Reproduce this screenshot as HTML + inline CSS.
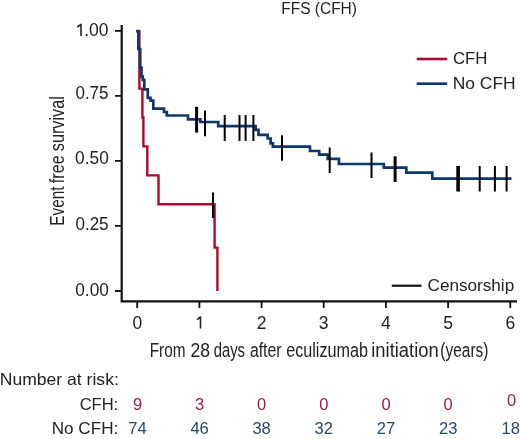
<!DOCTYPE html>
<html><head><meta charset="utf-8"><title>FFS (CFH)</title>
<style>
html,body{margin:0;padding:0;background:#fff;width:520px;height:439px;overflow:hidden}
svg{display:block;will-change:transform}
text{font-family:"Liberation Sans",sans-serif;fill:#222}
</style></head><body>
<svg width="520" height="439" viewBox="0 0 520 439">
<rect width="520" height="439" fill="#fff"/>
<!-- title -->
<text x="281.23" y="13.9" font-size="16" textLength="75.73" lengthAdjust="spacingAndGlyphs">FFS (CFH)</text>

<!-- axes -->
<g stroke="#111" fill="none">
<path d="M121.7,25 V301.3 H517" stroke-width="2.2"/>
<path d="M115,30.8 H121 M115,95.85 H121 M115,160.9 H121 M115,225.95 H121 M115,291 H121" stroke-width="1.8"/>
<path d="M137.2,302 V308 M199.4,302 V308 M261.6,302 V308 M323.7,302 V308 M385.9,302 V308 M448.1,302 V308 M510.3,302 V308" stroke-width="1.8"/>
</g>

<!-- y tick labels -->
<g font-size="17.5" text-anchor="end">
<text x="108.5" y="35.8">.00</text>
<text x="75.44" y="98.7" text-anchor="start" textLength="33.08" lengthAdjust="spacingAndGlyphs">0.75</text>
<text x="75.12" y="164.3" text-anchor="start" textLength="33.75" lengthAdjust="spacingAndGlyphs">0.50</text>
<text x="75.43" y="230.1" text-anchor="start" textLength="33.18" lengthAdjust="spacingAndGlyphs">0.25</text>
<text x="75.22" y="295.8" text-anchor="start" textLength="33.65" lengthAdjust="spacingAndGlyphs">0.00</text>
</g>
<!-- x tick labels -->
<g font-size="17.5" text-anchor="middle">
<text x="137.4" y="328.6">0</text>

<text x="261.6" y="328.6">2</text>
<text x="323.7" y="328.6">3</text>
<text x="385.9" y="328.6">4</text>
<text x="448.1" y="328.6">5</text>
<text x="510.3" y="328.6">6</text>
</g>

<path d="M77.3,27 L81,24.4 V35.9 M197.1,319.7 L200.5,317 V328.6" fill="none" stroke="#222" stroke-width="1.6" stroke-linejoin="round"/>
<!-- axis titles -->
<g font-size="20" lengthAdjust="spacingAndGlyphs"><text x="149.64" y="356.7" textLength="35.88" lengthAdjust="spacingAndGlyphs">From</text><text x="190.42" y="356.7" textLength="19.55" lengthAdjust="spacingAndGlyphs">28</text><text x="213.68" y="356.7" textLength="31.36" lengthAdjust="spacingAndGlyphs">days</text><text x="249.93" y="356.7" textLength="31.63" lengthAdjust="spacingAndGlyphs">after</text><text x="286.21" y="356.7" textLength="81.66" lengthAdjust="spacingAndGlyphs">eculizumab</text><text x="371.27" y="356.7" textLength="67.42" lengthAdjust="spacingAndGlyphs">initiation</text><text x="440.34" y="356.7" textLength="48.12" lengthAdjust="spacingAndGlyphs">(years)</text></g>
<g transform="translate(63.9,0) rotate(-90)" font-size="21"><text x="-225.65" y="0" textLength="39.07" lengthAdjust="spacingAndGlyphs">Event</text><text x="-183.23" y="0" textLength="27.95" lengthAdjust="spacingAndGlyphs">free</text><text x="-151.25" y="0" textLength="55.14" lengthAdjust="spacingAndGlyphs">survival</text></g>

<!-- curves -->
<path fill="none" stroke="#ad0a2e" stroke-width="2.4" d="M136.3,31.2 H139.4 V88.6 H142.4 V117.5 H143.4 V146.4 H147.3 V175.4 H158.5 V204.3 H214.6 V247.6 H217.4 V291"/>
<path fill="none" stroke="#0c386c" stroke-width="2.7" d="M136.3,31.2 H138.4 V49 H140.2 V67.5 H141.5 V76.6 H142.7 V79.8 H144.3 V89.3 H147.8 V97.8 H150.5 V100.6 H153.3 V108.6 H164 V112 H166.8 V115.5 H188 V119.3 H200.4 V122 H218.2 V126.2 H255.6 V129.8 H258.5 V134.8 H267.7 V138.5 H270.6 V143.3 H272.9 V146.6 H310 V151 H319.2 V154.7 H327.7 V158.9 H338.9 V164 H383.8 V167.7 H406.3 V172.6 H432.3 V178.7 H511.5"/>

<!-- censor marks -->
<g stroke="#000" fill="none" stroke-width="2">
<path d="M213,192.5 V218"/>
<path d="M196.6,106.8 V132.6" stroke-width="3"/>
<path d="M205,110.5 V136.2"/>
<path d="M224.7,115 V141 M239.5,115 V141 M245.6,115 V141 M253.4,115 V141"/>
<path d="M282,135.2 V160.7"/>
<path d="M329.7,147.5 V173"/>
<path d="M371.5,152.5 V178"/>
<path d="M395.1,156.3 V182" stroke-width="3"/>
<path d="M458.1,166 V191.5" stroke-width="3.6"/>
<path d="M479.7,166 V191.5 M494.9,166 V191.5 M506.6,166 V191.5"/>
</g>

<!-- legends -->
<path d="M416.7,59 H447.2" stroke="#ad0a2e" stroke-width="2.6"/>
<path d="M416.7,83.7 H447.2" stroke="#0c386c" stroke-width="2.7"/>
<text x="452.95" y="63.8" font-size="16.5" textLength="34.52" lengthAdjust="spacingAndGlyphs">CFH</text>
<text x="452.77" y="89" font-size="16.5" textLength="62.85" lengthAdjust="spacingAndGlyphs">No CFH</text>
<path d="M391.8,285.7 H421.5" stroke="#111" stroke-width="2.2"/>
<text x="427.53" y="290.5" font-size="16.5" textLength="86.69" lengthAdjust="spacingAndGlyphs">Censorship</text>

<!-- risk table -->
<text x="-0.29" y="384.5" font-size="16.5" textLength="119.1" lengthAdjust="spacingAndGlyphs">Number at risk:</text>
<g font-size="16.5" text-anchor="end">
<text x="79.66" y="409.6" text-anchor="start" textLength="38.55" lengthAdjust="spacingAndGlyphs">CFH:</text>
<text x="51.7" y="434.2" text-anchor="start" textLength="66.57" lengthAdjust="spacingAndGlyphs">No CFH:</text>
</g>
<g font-size="16.5" text-anchor="middle" style="fill:#a21c3c">
<text x="137.6" y="409.6" style="fill:#a21c3c">9</text>
<text x="199.6" y="409.6" style="fill:#a21c3c">3</text>
<text x="261.6" y="409.6" style="fill:#a21c3c">0</text>
<text x="323.8" y="409.6" style="fill:#a21c3c">0</text>
<text x="386" y="409.6" style="fill:#a21c3c">0</text>
<text x="448.2" y="409.6" style="fill:#a21c3c">0</text>
<text x="511.5" y="405.8" style="fill:#8e2a3a">0</text>
</g>
<g font-size="16.5" text-anchor="middle">
<text x="137.4" y="434.4" style="fill:#24496f">74</text>
<text x="199.6" y="434.4" style="fill:#24496f">46</text>
<text x="261.6" y="434.4" style="fill:#24496f">38</text>
<text x="323.8" y="434.4" style="fill:#24496f">32</text>
<text x="386" y="434.4" style="fill:#24496f">27</text>
<text x="448.3" y="434.4" style="fill:#24496f">23</text>
<text x="510.7" y="434.4" style="fill:#24496f">18</text>
</g>
</svg>
</body></html>
